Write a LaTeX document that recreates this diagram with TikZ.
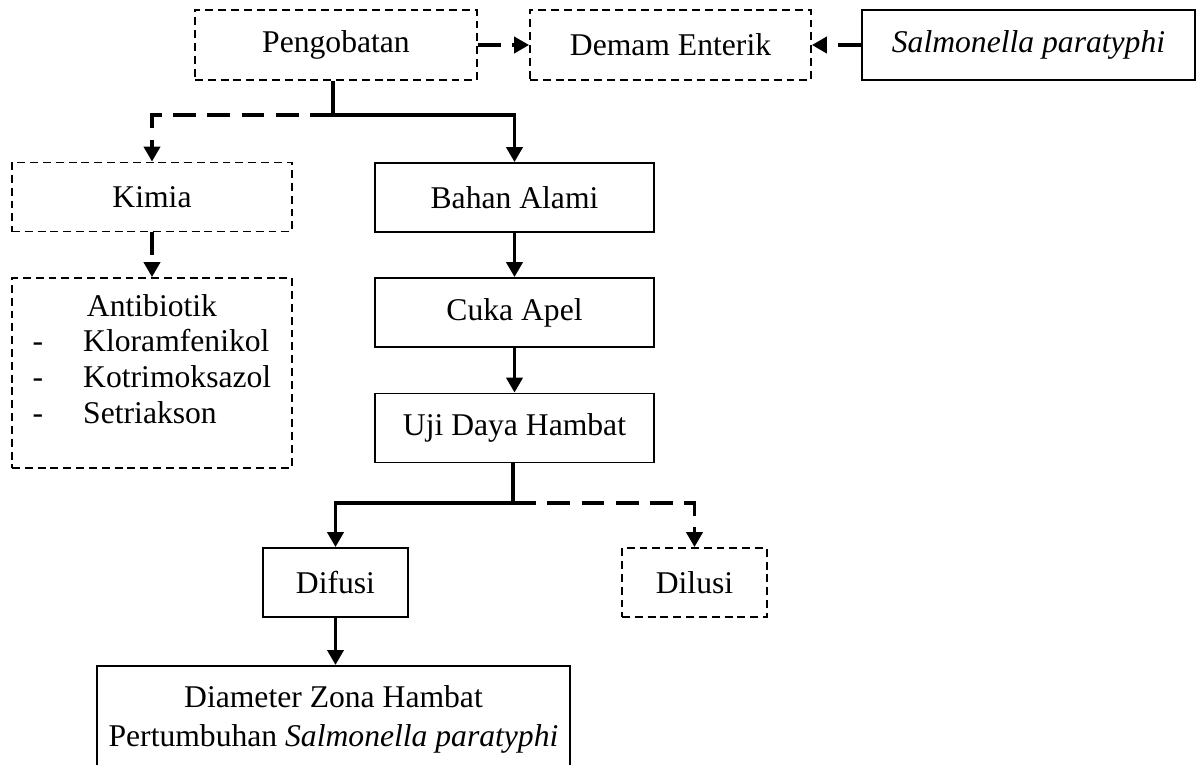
\documentclass[tikz,border=0pt]{standalone}
\usepackage{fontspec}
\setmainfont{Liberation Serif}
\usetikzlibrary{arrows.meta}

\begin{document}
\begin{tikzpicture}[
      font=\fontsize{18}{20.3}\selectfont,
      box/.style={draw, rectangle, line width=1pt, minimum width=5.6cm, minimum height=1.38cm, text centered}, % Kotak biasa
      dbox/.style={box, dash pattern=on 4.5pt off 2.8pt}, % Kotak putus-putus
      stem/.style={line width=2.2pt},
      link/.style={stem, -{Triangle[length=0.3cm, width=0.32cm]}},
      dlink/.style={link, dash pattern=on 13pt off 6.5pt}
    ]
    \useasboundingbox (0,0) rectangle (23.98,-15.3);
    % Baris atas
    \node [dbox, minimum width=5.64cm, minimum height=1.4cm] (pengobatan) at (6.72,-0.9) {Pengobatan};
    \node [dbox, minimum width=5.62cm, minimum height=1.4cm] (demam) at (13.41,-0.9) {Demam Enterik};
    \node [box, minimum width=6.66cm, minimum height=1.4cm] (salmonella) at (20.57,-0.9) {\textit{Salmonella paratyphi}};
    % Cabang kimia
    \node [dbox] (kimia) at (3.04,-3.94) {Kimia};
    \node [dbox, minimum height=3.8cm] (antibiotik) at (3.04,-7.46) {%
      \begin{tabular}{@{}l@{\hspace{0.8cm}}l@{}}
        \multicolumn{2}{c}{Antibiotik} \\
        - & Kloramfenikol \\
        - & Kotrimoksazol \\
        - & Setriakson \\[0.42cm]
      \end{tabular}};
    % Cabang bahan alami
    \node [box, minimum width=5.58cm] (bahan) at (10.29,-3.95) {Bahan Alami};
    \node [box, minimum width=5.58cm] (cuka) at (10.29,-6.25) {Cuka Apel};
    \node [box, minimum width=5.58cm] (uji) at (10.29,-8.56) {Uji Daya Hambat};
    \node [box, minimum width=2.9cm] (difusi) at (6.71,-11.65) {Difusi};
    \node [dbox, minimum width=2.9cm] (dilusi) at (13.89,-11.65) {Dilusi};
    \node [box, minimum width=9.46cm, minimum height=2.14cm, anchor=north, align=center] (diameter) at (6.67,-13.3)
      {Diameter Zona Hambat\\[2pt]Pertumbuhan \textit{Salmonella paratyphi}};
    % Panah
    \draw [dlink] (pengobatan) -- (demam);
    \draw [dlink] (salmonella) -- (demam);
    \coordinate (split1) at (6.66,-2.3);
    \draw [stem] (pengobatan.south -| split1) -- (split1);
    \draw [dlink] (split1) -| (kimia.north);
    \draw [link] (split1) -| (bahan.north);
    \draw [dlink] (kimia) -- (antibiotik);
    \draw [link] (bahan) -- (cuka);
    \draw [link] (cuka) -- (uji);
    \coordinate (split2) at (10.26,-10.06);
    \draw [stem] (uji.south -| split2) -- (split2);
    \draw [link] (split2) -| (difusi.north);
    \draw [dlink] (split2) -| (dilusi.north);
    \draw [link] (difusi.south) -- (difusi.south |- diameter.north);
\end{tikzpicture}
\end{document}
